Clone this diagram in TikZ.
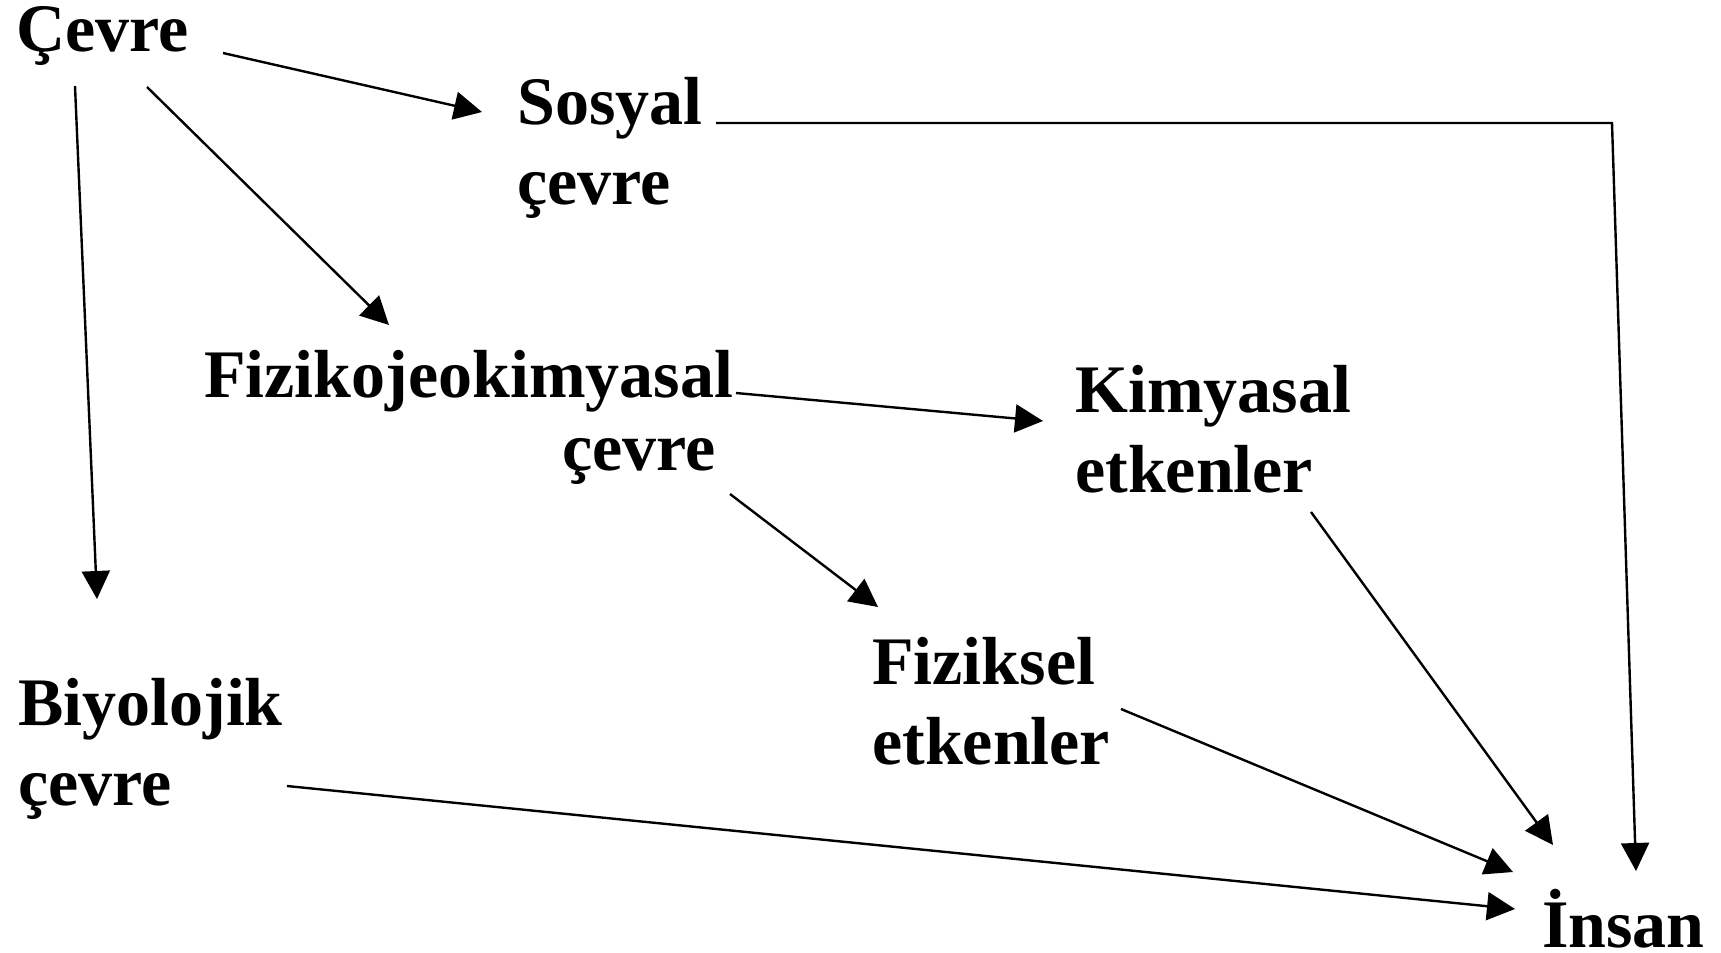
\documentclass[tikz,border=0pt]{standalone}
\usepackage{fontspec}
\setmainfont{Liberation Serif}
\usetikzlibrary{arrows.meta,calc}
\begin{document}
\begin{tikzpicture}[x=0.5pt, y=-0.5pt, line width=1.2pt,
    lbl/.style = {anchor=base west, inner sep=0pt, align=left, font=\fontsize{34}{40}\selectfont\bfseries},
    arr/.style = {-{Triangle[length=14pt, width=14pt]}}]
    \useasboundingbox (0,0) rectangle (1721,953);

    % base west = baseline of the last line
    \node[lbl] (cevre) at (15,51) {Çevre};
    \node[lbl] (sosyal) at (516,204) {Sosyal\\çevre};
    \node[lbl, align=right, font=\fontsize{34}{36.5}\selectfont\bfseries] (fizik) at (203,470) {Fizikojeokimyasal\\çevre\hspace*{0.25em}};
    \node[lbl] (kimyasal) at (1074,492) {Kimyasal\\etkenler};
    \node[lbl] (fiziksel) at (871,764) {Fiziksel\\etkenler};
    \node[lbl] (biyolojik) at (17,805) {Biyolojik\\çevre};
    \node[lbl] (insan) at (1541,947) {İnsan};
    \coordinate (knee) at ($(insan.base west)+(71,-824)$);

    \draw[arr] ($(cevre.base west)+(208,2)$) -- ($(sosyal.base west)+(-34,-92)$);
    \draw[arr] ($(cevre.base west)+(132,36)$) -- ($(fizik.base west)+(186,-145)$);
    \draw[arr] ($(cevre.base west)+(60,35)$) -- ($(biyolojik.base west)+(80,-206)$);
    \draw[arr] ($(sosyal.base west)+(200,-81)$) -- (knee) -- ($(insan.base west)+(95,-76)$);
    \draw[arr] ($(fizik.base west)+(533,-77)$) -- ($(kimyasal.base west)+(-31,-71)$);
    \draw[arr] ($(fizik.base west)+(527,24)$) -- ($(fiziksel.base west)+(7,-157)$);
    \draw[arr] ($(kimyasal.base west)+(237,20)$) -- ($(insan.base west)+(12,-102)$);
    \draw[arr] ($(fiziksel.base west)+(250,-55)$) -- ($(insan.base west)+(-28,-75)$);
    \draw[arr] ($(biyolojik.base west)+(270,-19)$) -- ($(insan.base west)+(-26,-38)$);
\end{tikzpicture}
\end{document}
